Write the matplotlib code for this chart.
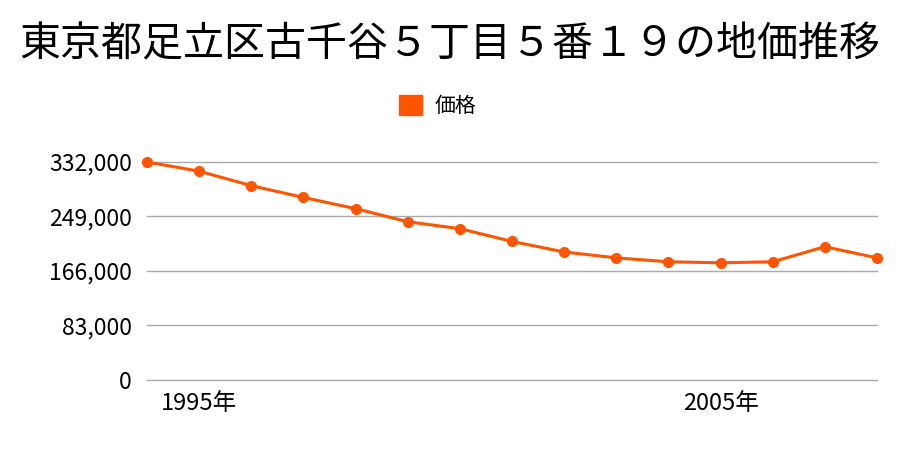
import matplotlib
matplotlib.use("Agg")
import matplotlib.pyplot as plt
from matplotlib.patches import Patch
from matplotlib.ticker import FuncFormatter

plt.rcParams['font.family'] = ['Noto Sans CJK JP', 'DejaVu Sans']

title = '東京都足立区古千谷５丁目５番１９の地価推移'
series_name = '価格'
years = [1994, 1995, 1996, 1997, 1998, 1999, 2000, 2001,
         2002, 2003, 2004, 2005, 2006, 2007, 2008]
prices = [332000, 318000, 296000, 278000, 261000, 241000, 230500, 211000,
          195000, 186000, 180000, 178500, 180000, 203000, 186000]
y_ticks = [0, 83000, 166000, 249000, 332000]
x_ticks = [1995, 2005]

color = '#ff5500'


def main():
    fig = plt.figure(figsize=(9, 4.5), dpi=100)
    ax = fig.add_axes([0.1633, 0.1556, 0.9744 - 0.1633, 0.64 - 0.1556])

    ax.plot(years, prices, color=color, linewidth=2.2, marker='o',
            markersize=7, clip_on=False, zorder=3)

    ax.set_xlim(years[0], years[-1])
    ax.set_ylim(0, max(y_ticks))
    ax.set_yticks(y_ticks)
    ax.yaxis.set_major_formatter(FuncFormatter(lambda v, p: f'{int(v):,}'))
    ax.set_xticks(x_ticks)
    ax.set_xticklabels([f'{y}年' for y in x_ticks])
    ax.tick_params(axis='y', length=0, labelsize=16.5, pad=11)
    ax.tick_params(axis='x', length=0, labelsize=17, pad=9)
    ax.grid(axis='y', color='#aaaaaa', linewidth=1)
    for gl in ax.get_ygridlines():
        gl.set_clip_on(False)
    for s in ax.spines.values():
        s.set_visible(False)

    fig.text(0.5, 0.90, title, ha='center', va='center', fontsize=29.5)
    fig.legend(handles=[Patch(color=color, label=series_name)],
               loc='center', bbox_to_anchor=(0.486, 0.765), frameon=False,
               fontsize=15, handlelength=1.1, handleheight=1.1,
               handletextpad=0.6)

    fig.savefig('out.png', dpi=100)


main()
